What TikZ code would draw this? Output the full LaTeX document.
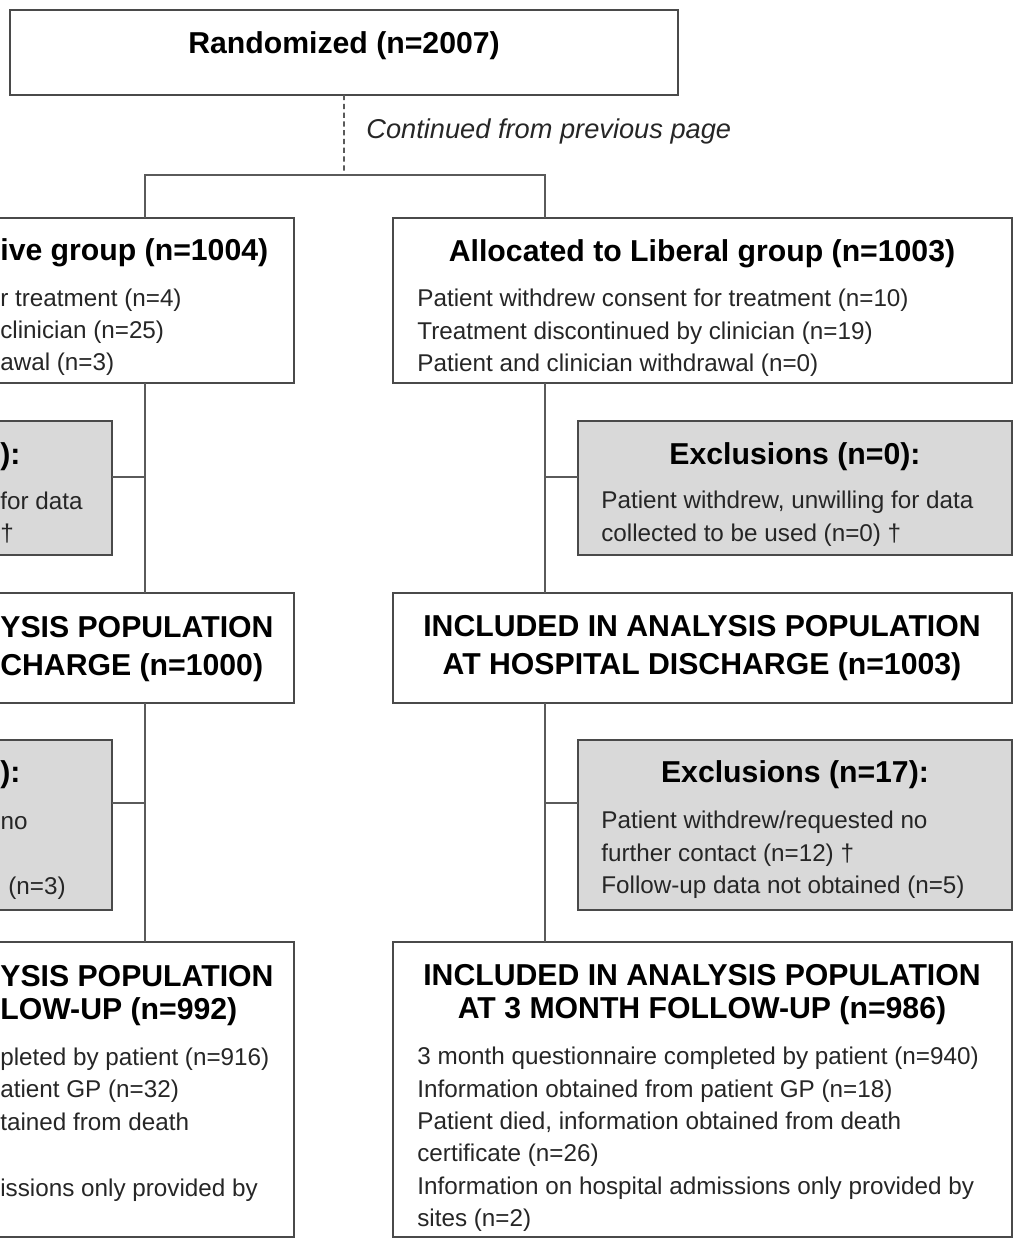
\documentclass[tikz,border=0pt]{standalone}
\usepackage{fontspec}
\setmainfont{Liberation Sans}
\definecolor{boxgray}{HTML}{4A4A4A}
\definecolor{linegray}{HTML}{5A5A5A}
\definecolor{exgray}{HTML}{D9D9D9}
\definecolor{textgray}{HTML}{262626}

\begin{document}
\begin{tikzpicture}[
    x=0.02cm, y=-0.02cm,
    box/.style = {draw=boxgray, line width=1pt, fill=white,
                inner sep=0pt, outer sep=0pt},
    exbox/.style = {box, fill=exgray},
    head/.style = {font=\bfseries\fontsize{17.2}{21.6}\selectfont,
                align=center, inner sep=0pt},
    body/.style = {font=\fontsize{13.8}{18.4}\selectfont,
                align=left, inner sep=0pt, text=textgray},
    link/.style = {draw=linegray, line width=1pt}
                    ]
    \def\gw{12.38cm}  % width of the group boxes
    \def\ew{8.68cm}   % width of the exclusion boxes
    \useasboundingbox (0,0) rectangle (1014,1239);
    \clip (0,0) rectangle (1014,1239);

    % boxes
    \node[box, anchor=north west, minimum width=13.36cm, minimum height=1.7cm] (rand) at (10,10) {};
    \node[box, anchor=north east, minimum width=\gw, minimum height=3.3cm] (resgrp) at (294,218) {};
    \node[box, anchor=north west, minimum width=\gw, minimum height=3.3cm] (libgrp) at (393,218) {};
    \node[exbox, anchor=north east, minimum width=\ew, minimum height=2.68cm] (resexc1) at (112,421) {};
    \node[exbox, anchor=north west, minimum width=\ew, minimum height=2.68cm] (libexc1) at (578,421) {};
    \node[box, anchor=north east, minimum width=\gw, minimum height=2.2cm] (resdis) at (294,593) {};
    \node[box, anchor=north west, minimum width=\gw, minimum height=2.2cm] (libdis) at (393,593) {};
    \node[exbox, anchor=north east, minimum width=\ew, minimum height=3.4cm] (resexc2) at (112,740) {};
    \node[exbox, anchor=north west, minimum width=\ew, minimum height=3.4cm] (libexc2) at (578,740) {};
    \node[box, anchor=north east, minimum width=\gw, minimum height=5.9cm] (resfu) at (294,942) {};
    \node[box, anchor=north west, minimum width=\gw, minimum height=5.9cm] (libfu) at (393,942) {};

    % connectors
    \coordinate (split) at (344,175);
    \coordinate (lft) at (145,175);
    \coordinate (rgt) at (545,175);
    \coordinate (lx1) at (145,477);
    \coordinate (rx1) at (545,477);
    \coordinate (lx2) at (145,803);
    \coordinate (rx2) at (545,803);
    \draw[link, dash pattern=on 3pt off 2pt] (rand.south) -- (split);
    \draw[link] (lft |- resgrp.north) -- (lft) -- (rgt) -- (rgt |- libgrp.north);
    \draw[link] (lft |- resgrp.south) -- (lft |- resdis.north);
    \draw[link] (lft |- resdis.south) -- (lft |- resfu.north);
    \draw[link] (rgt |- libgrp.south) -- (rgt |- libdis.north);
    \draw[link] (rgt |- libdis.south) -- (rgt |- libfu.north);
    \draw[link] (lx1) -- (lx1 -| resexc1.east);
    \draw[link] (rx1) -- (rx1 -| libexc1.west);
    \draw[link] (lx2) -- (lx2 -| resexc2.east);
    \draw[link] (rx2) -- (rx2 -| libexc2.west);

    % top
    \node[head, anchor=north] (randt) at (344,31) {Randomized (n=2007)};
    \node[anchor=west, inner sep=0pt, text=textgray,
          font=\itshape\fontsize{15.5}{18}\selectfont] (cont) at (366,131) {Continued from previous page};

    % right column
    \node[head, anchor=north] (libgrph) at (702,239) {Allocated to Liberal group (n=1003)};
    \node[body, anchor=north west] (libgrpt) at (417,289) {Patient withdrew consent for treatment (n=10)\\
        Treatment discontinued by clinician (n=19)\\Patient and clinician withdrawal (n=0)};
    \node[head, anchor=north] (libexc1h) at (795,442) {Exclusions (n=0):};
    \node[body, anchor=north west] (libexc1t) at (601,491) {Patient withdrew, unwilling for data\\
        collected to be used (n=0) †};
    \node[head, anchor=north] (libdish) at (702,615) {INCLUDED IN ANALYSIS POPULATION\\
        AT HOSPITAL DISCHARGE (n=1003)};
    \node[head, anchor=north] (libexc2h) at (795,760) {Exclusions (n=17):};
    \node[body, anchor=north west] (libexc2t) at (601,811) {Patient withdrew/requested no\\
        further contact (n=12) †\\Follow-up data not obtained (n=5)};
    \node[head, anchor=north, font=\bfseries\fontsize{17.2}{18.8}\selectfont] (libfuh) at (702,964)
        {INCLUDED IN ANALYSIS POPULATION\\AT 3 MONTH FOLLOW-UP (n=986)};
    \node[body, anchor=north west] (libfut) at (417,1047) {3 month questionnaire completed by patient (n=940)\\
        Information obtained from patient GP (n=18)\\Patient died, information obtained from death\\
        certificate (n=26)\\Information on hospital admissions only provided by\\sites (n=2)};

    % left column, what is left of it at the page edge
    \node[head, anchor=base west] (resgrph) at (0,261) {ive group (n=1004)};
    \node[body, anchor=base west] (resgrpa) at (0,307) {r treatment (n=4)};
    \node[body, anchor=base west] (resgrpb) at (0,339) {clinician (n=25)};
    \node[body, anchor=base west] (resgrpc) at (0,371) {awal (n=3)};
    \node[head, anchor=base west] (resexc1h) at (0,464) {):};
    \node[body, anchor=base west] (resexc1a) at (0,509) {for data};
    \node[body, anchor=base west] (resexc1b) at (0,541) {†};
    \node[head, anchor=base west] (resdisa) at (0,637) {YSIS POPULATION};
    \node[head, anchor=base west] (resdisb) at (0,675) {CHARGE (n=1000)};
    \node[head, anchor=base west] (resexc2h) at (0,782) {):};
    \node[body, anchor=base east] (resexc2a) at (28,829) {no};
    \node[body, anchor=base east] (resexc2b) at (66,894) {(n=3)};
    \node[head, anchor=base west] (resfua) at (0,986) {YSIS POPULATION};
    \node[head, anchor=base west] (resfub) at (0,1019) {LOW-UP (n=992)};
    \node[body, anchor=base west] (resfuc) at (0,1065) {pleted by patient (n=916)};
    \node[body, anchor=base west] (resfud) at (0,1097) {atient GP (n=32)};
    \node[body, anchor=base west] (resfue) at (0,1130) {tained from death};
    \node[body, anchor=base west] (resfuf) at (0,1196) {issions only provided by};
\end{tikzpicture}
\end{document}
